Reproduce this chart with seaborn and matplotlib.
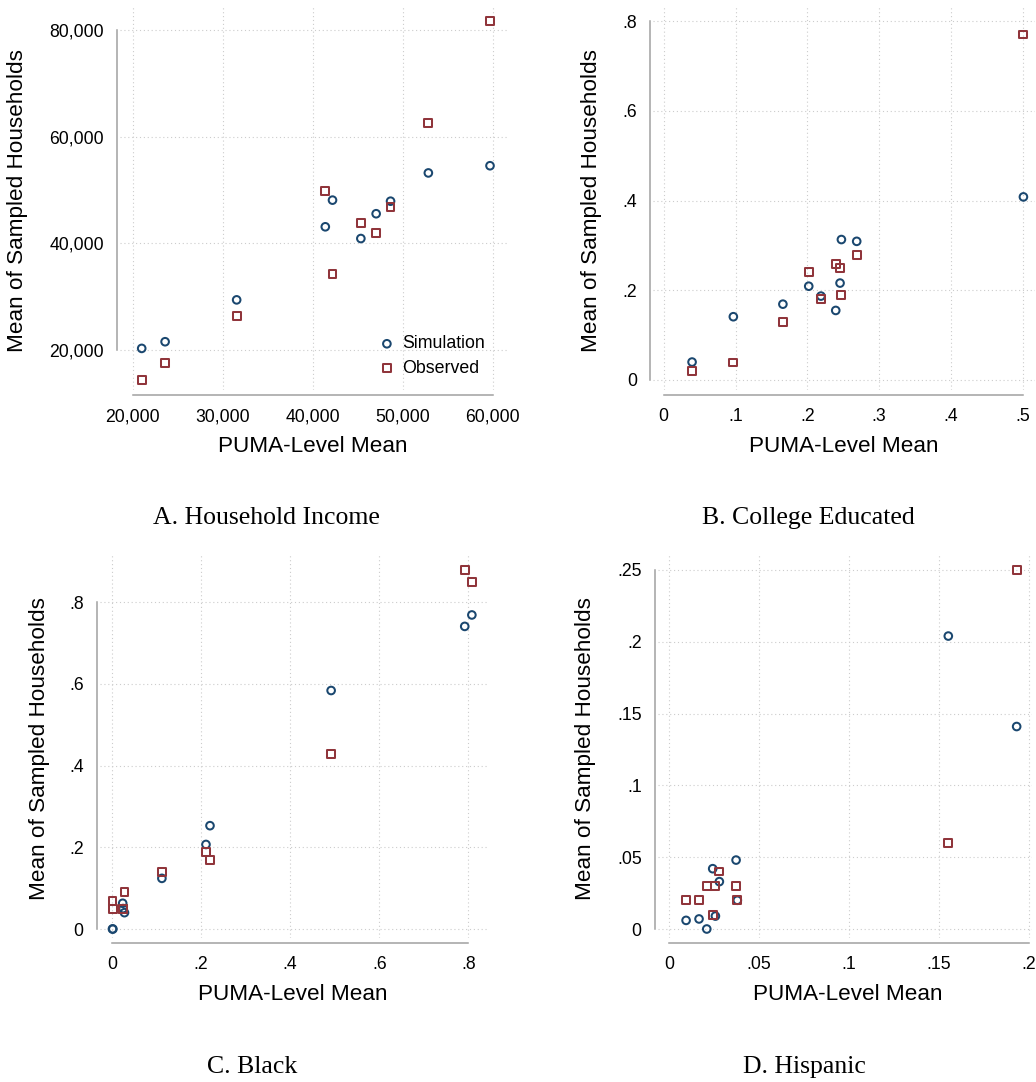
import matplotlib
matplotlib.use("Agg")
import matplotlib.pyplot as plt
from matplotlib.ticker import FixedLocator, FuncFormatter
import pandas as pd
import seaborn as sns

# ---------------------------------------------------------------------------
# Data: PUMA-level means vs. means of sampled households
# ---------------------------------------------------------------------------
# A. Household income
income_puma = [21000, 23600, 31550, 41400, 42200, 45350, 47050, 48650, 52850, 59700]
income_sim = [20300, 21550, 29400, 43100, 48100, 40900, 45550, 47900, 53200, 54550]
income_obs = [14300, 17500, 26300, 49850, 34300, 43800, 42000, 46850, 62550, 81700]

# B. College educated
college_puma = [0.0395, 0.097, 0.166, 0.202, 0.219, 0.2396, 0.2456, 0.2475, 0.2688, 0.501]
college_sim = [0.040, 0.141, 0.169, 0.209, 0.187, 0.155, 0.216, 0.313, 0.309, 0.408]
college_obs = [0.020, 0.039, 0.129, 0.240, 0.180, 0.259, 0.250, 0.189, 0.279, 0.770]

# C. Black
black_puma = [0.001, 0.002, 0.024, 0.025, 0.028, 0.112, 0.211, 0.220, 0.492, 0.792, 0.808]
black_sim = [0.000, 0.000, 0.063, 0.050, 0.040, 0.124, 0.207, 0.253, 0.584, 0.741, 0.769]
black_obs = [0.069, 0.049, 0.050, 0.050, 0.090, 0.140, 0.189, 0.169, 0.429, 0.879, 0.849]

# D. Hispanic
hisp_puma = [0.0095, 0.0167, 0.021, 0.0243, 0.0258, 0.028, 0.0373, 0.038, 0.1553, 0.1933]
hisp_sim = [0.006, 0.007, 0.000, 0.042, 0.009, 0.033, 0.048, 0.020, 0.204, 0.141]
hisp_obs = [0.020, 0.020, 0.030, 0.010, 0.030, 0.040, 0.030, 0.020, 0.060, 0.250]

panel_titles = ["A. Household Income", "B. College Educated", "C. Black", "D. Hispanic"]
series_names = ["Simulation", "Observed"]

income_xticks = [20000, 30000, 40000, 50000, 60000]
income_yticks = [20000, 40000, 60000, 80000]
college_xticks = [0, 0.1, 0.2, 0.3, 0.4, 0.5]
college_yticks = [0, 0.2, 0.4, 0.6, 0.8]
black_xticks = [0, 0.2, 0.4, 0.6, 0.8]
black_yticks = [0, 0.2, 0.4, 0.6, 0.8]
hisp_xticks = [0, 0.05, 0.1, 0.15, 0.2]
hisp_yticks = [0, 0.05, 0.1, 0.15, 0.2, 0.25]

# ---------------------------------------------------------------------------
# Style
# ---------------------------------------------------------------------------
sns.set_style("white")
plt.rcParams["font.family"] = ["Liberation Sans", "DejaVu Sans"]
plt.rcParams["text.color"] = "black"
plt.rcParams["axes.labelcolor"] = "black"

NAVY = "#1a476f"
MAROON = "#90353b"
AXIS_GRAY = "#a0a0a0"
GRID_GRAY = "#cccccc"

W, H = 1036, 1082
fig = plt.figure(figsize=(W / 100, H / 100), dpi=100)
fig.patch.set_facecolor("white")


def fig_xy(px, py):
    return px / W, 1 - py / H


def add_axes_px(left, top, right, bottom):
    return fig.add_axes([left / W, 1 - bottom / H, (right - left) / W, (bottom - top) / H])


def lims(lo_px, hi_px, ref0, ref1):
    (v0, p0), (v1, p1) = ref0, ref1
    scale = (p1 - p0) / (v1 - v0)
    a = v0 + (lo_px - p0) / scale
    b = v0 + (hi_px - p0) / scale
    return (min(a, b), max(a, b))


def comma_fmt(v, _pos):
    return f"{v:,.0f}"


def stata_fmt(v, _pos):
    s = f"{round(v, 6):g}"
    if s.startswith("0."):
        s = s[1:]
    return s


panels = [
    dict(x=income_puma, sim=income_sim, obs=income_obs, xt=income_xticks, yt=income_yticks,
         rect=(120, 7, 508, 390), xref=((20000, 132.7), (60000, 492.7)),
         yref=((20000, 350), (80000, 30)), fmt=comma_fmt,
         xlab=(313, 447), ylab=(18, 200), title=(266, 518)),
    dict(x=college_puma, sim=college_sim, obs=college_obs, xt=college_xticks, yt=college_yticks,
         rect=(653, 7, 1035, 390), xref=((0, 663.7), (0.5, 1022.7)),
         yref=((0, 380), (0.8, 21)), fmt=stata_fmt,
         xlab=(844, 447), ylab=(592, 200), title=(808, 518)),
    dict(x=black_puma, sim=black_sim, obs=black_obs, xt=black_xticks, yt=black_yticks,
         rect=(100, 555, 487, 938), xref=((0, 112), (0.8, 468.3)),
         yref=((0, 929), (0.8, 602.3)), fmt=stata_fmt,
         xlab=(293, 995), ylab=(40, 748), title=(252, 1067)),
    dict(x=hisp_puma, sim=hisp_sim, obs=hisp_obs, xt=hisp_xticks, yt=hisp_yticks,
         rect=(658, 555, 1032, 938), xref=((0, 669), (0.2, 1028.7)),
         yref=((0, 929), (0.25, 570)), fmt=stata_fmt,
         xlab=(848, 995), ylab=(585, 748), title=(804, 1067)),
]

TICK_FS = 12.7
LABEL_FS = 16.2

for i, p in enumerate(panels):
    left, top, right, bottom = p["rect"]
    ax = add_axes_px(left, top, right, bottom)
    df = pd.DataFrame({"puma": p["x"], "sim": p["sim"], "obs": p["obs"]})

    sns.scatterplot(data=df, x="puma", y="sim", ax=ax, marker="o", s=30,
                    fc="none", ec=NAVY, linewidth=1.45, label=series_names[0], zorder=3)
    sns.scatterplot(data=df, x="puma", y="obs", ax=ax, marker="s", s=32,
                    fc="none", ec=MAROON, linewidth=1.45, label=series_names[1], zorder=4)

    ax.set_xlim(*lims(left, right, *p["xref"]))
    ax.set_ylim(*lims(bottom, top, *p["yref"]))
    ax.xaxis.set_major_locator(FixedLocator(p["xt"]))
    ax.yaxis.set_major_locator(FixedLocator(p["yt"]))
    ax.xaxis.set_major_formatter(FuncFormatter(p["fmt"]))
    ax.yaxis.set_major_formatter(FuncFormatter(p["fmt"]))

    ax.set_axisbelow(True)
    ax.grid(True, color=GRID_GRAY, linestyle=(0, (1, 2.5)), linewidth=0.8)

    for side in ("top", "right"):
        ax.spines[side].set_visible(False)
    ax.spines["left"].set_position(("outward", 2.2))
    ax.spines["bottom"].set_position(("outward", 3.6))
    for side in ("left", "bottom"):
        ax.spines[side].set_color(AXIS_GRAY)
        ax.spines[side].set_linewidth(1.1)
    ax.spines["left"].set_bounds(p["yt"][0], p["yt"][-1])
    ax.spines["bottom"].set_bounds(p["xt"][0], p["xt"][-1])

    ax.tick_params(axis="both", which="major", length=5.5, width=1.0, color=AXIS_GRAY,
                   labelsize=TICK_FS, labelcolor="black", direction="out")
    ax.tick_params(axis="x", pad=4)
    ax.tick_params(axis="y", pad=4)

    ax.set_xlabel("PUMA-Level Mean", fontsize=LABEL_FS, color="black")
    ax.set_ylabel("Mean of Sampled Households", fontsize=LABEL_FS, color="black")
    ax.xaxis.set_label_coords(*fig_xy(*p["xlab"]), transform=fig.transFigure)
    ax.yaxis.set_label_coords(*fig_xy(*p["ylab"]), transform=fig.transFigure)
    ax.xaxis.label.set_va("center")
    ax.yaxis.label.set_va("center")

    if i == 0:
        lx, ly = fig_xy(378, 356)
        leg = ax.legend(loc="center left", bbox_to_anchor=(lx, ly),
                        bbox_transform=fig.transFigure,
                        frameon=False, fontsize=12.8, borderpad=0, borderaxespad=0,
                        handlelength=1.0, handletextpad=0.36, labelspacing=0.4,
                        markerscale=1.0)
        for t in leg.get_texts():
            t.set_color("black")
    else:
        leg = ax.get_legend()
        if leg is not None:
            leg.remove()

    fig.text(*fig_xy(*p["title"]), panel_titles[i], ha="center", va="center",
             fontsize=18.5, color="black", family=["Liberation Serif", "DejaVu Serif"])

fig.savefig("out.png", dpi=100, facecolor="white")
